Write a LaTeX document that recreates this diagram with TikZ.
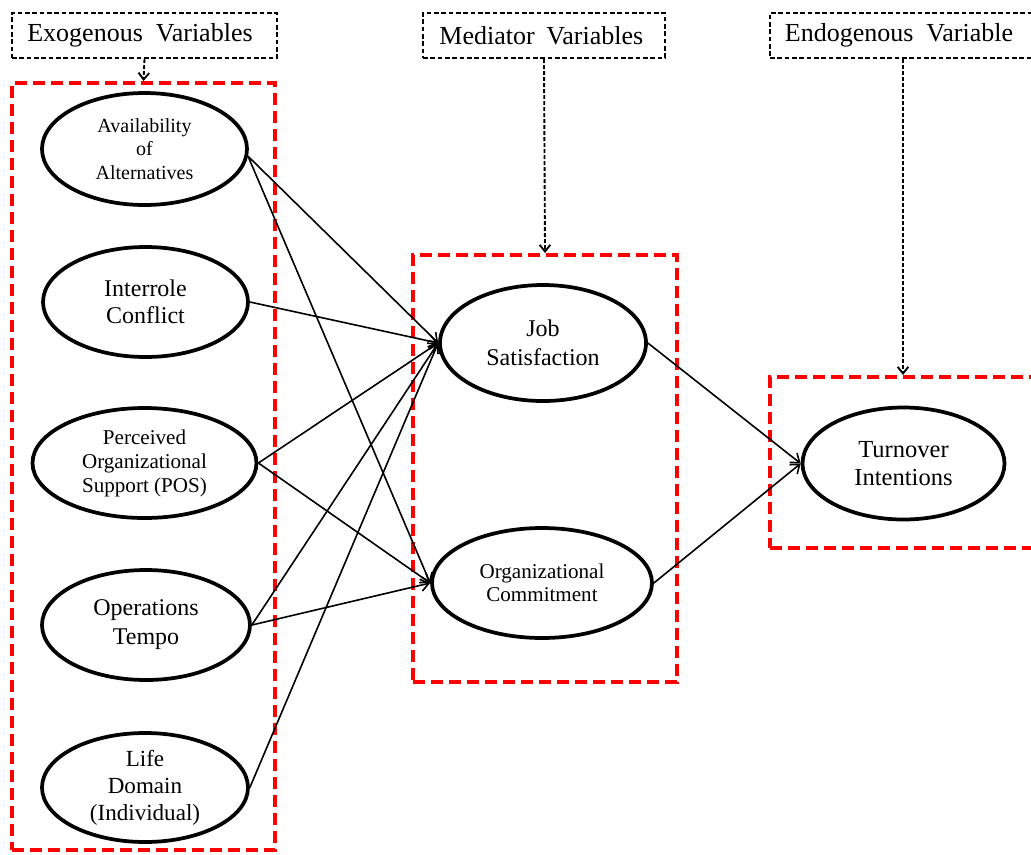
\documentclass[tikz,border=0pt]{standalone}
\usepackage{fontspec}
\setmainfont{Liberation Serif}
\usetikzlibrary{shapes.geometric,arrows.meta}
\tikzset{
  lbl/.style={draw=black, line width=1.5pt, dash pattern=on 3.5pt off 2pt, inner sep=0pt,
    minimum height=33.75pt, font={\fontsize{19.5}{22}\selectfont}},
  redbox/.style={draw=red, line width=3pt, dash pattern=on 9pt off 4.5pt, inner sep=0pt},
  var/.style={draw=black, line width=2.8pt, ellipse, inner sep=0pt, align=center},
  conn/.style={line width=1.2pt, -{Straight Barb[length=6pt,width=9pt]}},
  dconn/.style={line width=1.4pt, dash pattern=on 3pt off 1.5pt, -{Straight Barb[length=5pt,width=8pt]}},
}
\begin{document}
\begin{tikzpicture}[x=0.75pt, y=-0.75pt]
\useasboundingbox (0,0) rectangle (1031,854);
\clip (0,0) rectangle (1031,854);
% category labels
\node[lbl, minimum width=198.75pt] (exo) at (144.5,35.5) {Exogenous\ \ Variables\hspace*{6.75pt}};
\node[lbl, minimum width=181.5pt] (med) at (544,35.5) {Mediator\hspace{0.45em}Variables\hspace*{4pt}};
\node[lbl, minimum width=202.5pt] (endo) at (905,35.5) {Endogenous\ \ Variable\hspace*{9pt}};
% red groups
\node[redbox, minimum width=197.25pt, minimum height=575.25pt] (exobox) at (143.5,466.5) {};
\node[redbox, minimum width=198pt, minimum height=320.25pt] (medbox) at (545,468.5) {};
\node[redbox, minimum width=199.5pt, minimum height=128.25pt] (endobox) at (903,462.5) {};
% variables
\node[var, minimum width=153.75pt, minimum height=84pt, font={\fontsize{15}{17.6}\selectfont}] (avail) at (144.5,149) {Availability\\of\\Alternatives};
\node[var, minimum width=153.75pt, minimum height=82.5pt, font={\fontsize{18}{20.3}\selectfont}] (inter) at (145.5,302) {Interrole\\Conflict};
\node[var, minimum width=168pt, minimum height=82.5pt, font={\fontsize{15.8}{18}\selectfont}] (pos) at (144.5,463) {Perceived\\Organizational\\Support (POS)};
\node[var, minimum width=156pt, minimum height=82.5pt, font={\fontsize{18}{21.7}\selectfont}] (ops) at (146,625) {Operations\\Tempo};
\node[var, minimum width=154.5pt, minimum height=81.75pt, font={\fontsize{17.3}{20.2}\selectfont}] (life) at (145,787.5) {Life\\Domain\\(Individual)};
\node[var, minimum width=154.5pt, minimum height=87pt, font={\fontsize{18}{21.7}\selectfont}] (job) at (543,343) {Job\\Satisfaction};
\node[var, minimum width=165pt, minimum height=82.5pt, font={\fontsize{15.8}{17.3}\selectfont}] (org) at (542,583) {Organizational\\Commitment};
\node[var, minimum width=151.5pt, minimum height=84pt, font={\fontsize{18.4}{21}\selectfont}] (turn) at (903.5,463.5) {Turnover\\Intentions};
% dashed pointers
\draw[dconn] (exo.south) -- (exobox.north);
\draw[dconn] (med.south) -- (medbox.north);
\draw[dconn] (endo.south -| endobox.north) -- (endobox.north);
% paths
\draw[conn] (avail.-4) -- (job.west);
\draw[conn] (avail.-4) -- (org.west);
\draw[conn] (inter.east) -- (job.west);
\draw[conn] (pos.east) -- (job.west);
\draw[conn] (pos.east) -- (org.west);
\draw[conn] (ops.east) -- (job.west);
\draw[conn] (ops.east) -- (org.west);
\draw[conn] (life.east) -- (job.west);
\draw[conn] (job.east) -- (turn.west);
\draw[conn] (org.east) -- (turn.west);
\end{tikzpicture}
\end{document}
